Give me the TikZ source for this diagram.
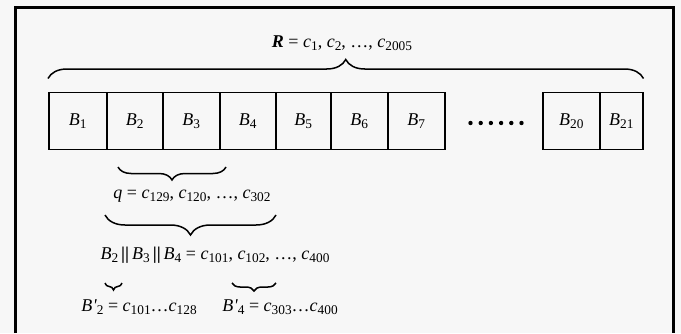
\documentclass[tikz,border=0pt]{standalone}
\usepackage{fontspec}
\setmainfont{Liberation Serif}
\usetikzlibrary{decorations.pathreplacing}
% lowered, smaller index
\newcommand\lo[1]{\raisebox{-0.35ex}{\scalebox{0.74}{#1}}}
\newcommand\cc[1]{\textit{c}\lo{#1}}
\newcommand\bb[1]{\textit{B}\lo{#1}}
\newcommand\bp[1]{\textit{B}\kern0.5pt\textit{\textquotesingle}\lo{#1}}
\newcommand\cat{\,\textbf{||}\,}
\begin{document}
\begin{tikzpicture}[x=1pt,y=1pt,
  every node/.style={font=\fontsize{18}{21}\selectfont},
  blk/.style={draw,line width=1.5pt,minimum height=57pt,inner sep=0pt},
  brc/.style={decorate,line width=1.5pt,decoration={brace,amplitude=#1}},
  lbl/.style={inner sep=1pt}]
\useasboundingbox (0,0) rectangle (681,333);
\fill[white!97!black] (0,0) rectangle (681,333);
% frame, open at the bottom
\draw[line width=3.2pt] (15.5,0) -- (15.5,325.5) -- (673.5,325.5) -- (673.5,0);
% blocks
\foreach \i/\x/\w in {1/48/58,2/106/56,3/162/57,4/219/56,5/275/55,6/330/57,7/387/57,20/542/57,21/599/43}{
  \node[blk,minimum width=\w pt,anchor=south west] (b\i) at (\x,183) {\raisebox{-3pt}{\bb{\i}}};
}
% omitted blocks
\foreach \k in {0,...,5}{
  \fill (470.5+\k*10.2,210) circle (2.2pt);
}
% whole message
\coordinate (rl) at ([yshift=13pt]b1.north west);
\coordinate (rr) at ([yshift=13pt]b21.north east);
\draw[brc=19pt] (rl) -- (rr);
\node[lbl] (R) at (342,290) {\textbf{\textit{R}} = \cc{1}, \cc{2}, \ldots, \cc{2005}};
% q brace
\coordinate (ql) at (118,166);
\coordinate (qr) at (226,166);
\draw[brc=13pt] (qr) -- (ql);
\node[lbl] (q) at (192,137) {\textit{q} = \cc{129}, \cc{120}, \ldots, \cc{302}};
% concatenated blocks
\coordinate (kl) at (105,118);
\coordinate (kr) at (276,118);
\draw[brc=20pt] (kr) -- (kl);
\node[lbl] (k) at (215,78) {\bb{2}\cat\bb{3}\cat\bb{4} = \cc{101}, \cc{102}, \ldots, \cc{400}};
% remaining pieces
\coordinate (al) at (105,50);
\coordinate (ar) at (122,50);
\draw[brc=7pt] (ar) -- (al);
\coordinate (cl) at (232,50);
\coordinate (cr) at (276,50);
\draw[brc=8pt] (cr) -- (cl);
\node[lbl] (p2) at (139,26) {\bp{2} = \cc{101}\ldots\cc{128}};
\node[lbl] (p4) at (280,26) {\bp{4} = \cc{303}\ldots\cc{400}};
\end{tikzpicture}
\end{document}
